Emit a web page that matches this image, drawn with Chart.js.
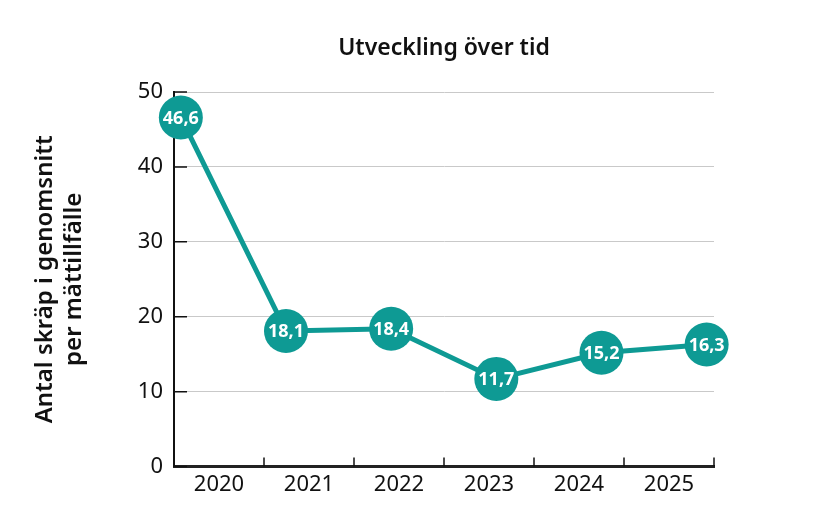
<!DOCTYPE html>
<html lang="sv">
<head>
<meta charset="utf-8">
<title>Utveckling över tid</title>
<script src="https://cdn.jsdelivr.net/npm/chart.js@4/dist/chart.umd.min.js"></script>
<style>
    html, body { margin: 0; padding: 0; background: #fff; }
    #wrap { width: 824px; height: 530px; }
</style>
</head>
<body>
<div id="wrap"><canvas id="trend_chart"></canvas></div>
<script>
// Chart data
const years      = ['2020', '2021', '2022', '2023', '2024', '2025'];
const litterAvg  = [46.6, 18.1, 18.4, 11.7, 15.2, 16.3];
const yTicks     = [0, 10, 20, 30, 40, 50];
const chartTitle = 'Utveckling över tid';
const yTitle     = ['Antal skräp i genomsnitt', 'per mättillfälle'];

const teal     = '#0e9a94';
const fontName = "'Noto Sans', sans-serif";

// Short black ticks pointing into the plot area
const innerTicks = {
    id: 'innerTicks',
    beforeDatasetsDraw(chart) {
        const {ctx, chartArea} = chart;
        const x = chart.scales.x, y = chart.scales.y;
        const step = x.getPixelForValue(1) - x.getPixelForValue(0);
        ctx.save();
        ctx.strokeStyle = '#111';
        ctx.lineWidth = 1.5;
        ctx.beginPath();
        yTicks.forEach( ( t ) => {
            const py = y.getPixelForValue(t);
            ctx.moveTo(chartArea.left, py);
            ctx.lineTo(chartArea.left + 13, py);
        });
        years.forEach( ( yr, i ) => {
            const px = x.getPixelForValue(i) + step / 2;
            ctx.moveTo(px, chartArea.bottom);
            ctx.lineTo(px, chartArea.bottom - 9);
        });
        ctx.stroke();
        ctx.restore();
    }
};

// Value labels inside the circles
const pointLabels = {
    id: 'pointLabels',
    afterDatasetsDraw(chart) {
        const {ctx} = chart;
        const meta = chart.getDatasetMeta(0);
        ctx.save();
        ctx.fillStyle = '#fff';
        ctx.font = "bold 18px " + fontName;
        ctx.textAlign = 'center';
        ctx.textBaseline = 'middle';
        meta.data.forEach( ( pt, i ) => {
            ctx.fillText(litterAvg[i].toFixed(1).replace('.', ','), pt.x, pt.y + 1);
        });
        ctx.restore();
    }
};

const trendData = {
    labels: years,
    datasets: [{
        data: litterAvg.map( ( v, i ) => ({x: i, y: v}) ),
        xAxisID: 'xl',
        clip: false,
        borderColor: teal,
        backgroundColor: teal,
        borderWidth: 5,
        pointRadius: 22,
        pointHoverRadius: 22,
        pointBorderWidth: 0,
        pointBackgroundColor: teal,
        tension: 0
    }]
};

const trendConfig = {
    type: 'line',
    data: trendData,
    options: {
        responsive: false,
        animation: false,
        layout: {padding: {left: 0, right: 110, top: 0, bottom: 27}},
        plugins: {
            legend: {display: false},
            tooltip: {enabled: false},
            title: {
                display: true,
                text: chartTitle,
                fullSize: false,
                color: '#111',
                font: {family: fontName, size: 23, weight: '600', lineHeight: 1.2},
                padding: {top: 35, bottom: 29.4}
            }
        },
        scales: {
            x: {
                type: 'category',
                offset: true,
                border: {display: true, color: '#222', width: 3},
                grid: {display: false, drawTicks: false},
                ticks: {color: '#111', padding: 5, font: {family: fontName, size: 22}}
            },
            xl: {
                type: 'linear',
                display: false,
                min: -0.065,
                max: 5.07
            },
            y: {
                min: 0,
                max: 50,
                afterFit(scale) { scale.width = 174; },
                border: {display: true, color: '#111', width: 2},
                grid: {color: '#c9c9c9', lineWidth: 1, drawTicks: false},
                ticks: {stepSize: 10, color: '#111', padding: 11, font: {family: fontName, size: 22}},
                title: {
                    display: true,
                    text: yTitle,
                    color: '#111',
                    font: {family: fontName, size: 24, weight: '600', lineHeight: 1.2},
                    padding: {top: 31, bottom: 0}
                }
            }
        }
    },
    plugins: [innerTicks, pointLabels]
};

let trendCtx = document.getElementById('trend_chart');

if ( trendCtx )
{
    trendCtx.width  = 824;
    trendCtx.height = 530;
    new Chart(trendCtx, trendConfig);
}
</script>
</body>
</html>
